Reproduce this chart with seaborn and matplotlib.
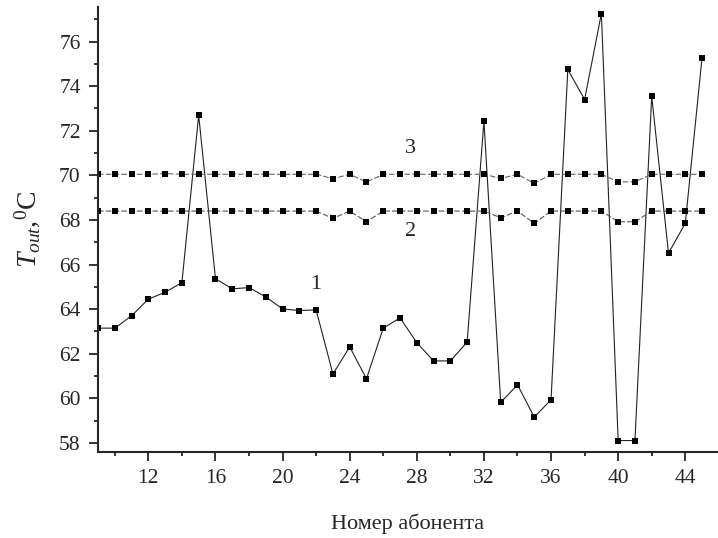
import matplotlib
matplotlib.use('Agg')
import matplotlib.pyplot as plt
from matplotlib.ticker import MultipleLocator
import seaborn as sns
import pandas as pd
import numpy as np

# subscriber numbers
subscribers = list(range(9, 46))

# curve 1: outlet temperature per subscriber
t_curve1 = [63.15, 63.15, 63.70, 64.45, 64.76, 65.19, 72.70, 65.37, 64.91, 64.97,
            64.55, 64.01, 63.94, 63.97, 61.09, 62.31, 60.88, 63.15, 63.61, 62.50,
            61.68, 61.68, 62.52, 72.43, 59.82, 60.61, 59.16, 59.94, 74.75, 73.40,
            77.25, 58.11, 58.11, 73.55, 66.51, 67.85, 75.28]

# curve 2
t_curve2 = [68.40, 68.40, 68.40, 68.40, 68.40, 68.40, 68.40, 68.40, 68.40, 68.40,
            68.40, 68.40, 68.40, 68.40, 68.07, 68.40, 67.92, 68.40, 68.40, 68.40,
            68.40, 68.40, 68.40, 68.40, 68.10, 68.40, 67.85, 68.40, 68.40, 68.40,
            68.40, 67.92, 67.92, 68.40, 68.40, 68.40, 68.40]

# curve 3
t_curve3 = [70.05, 70.05, 70.05, 70.05, 70.08, 70.05, 70.05, 70.05, 70.05, 70.05,
            70.05, 70.05, 70.05, 70.05, 69.85, 70.05, 69.70, 70.05, 70.05, 70.05,
            70.05, 70.05, 70.05, 70.05, 69.86, 70.05, 69.64, 70.05, 70.05, 70.05,
            70.05, 69.71, 69.71, 70.05, 70.05, 70.05, 70.05]

curve_names = ['1', '2', '3']

df = pd.DataFrame({
    'subscriber': subscribers * 3,
    'temp': t_curve1 + t_curve2 + t_curve3,
    'curve': sum([[c] * len(subscribers) for c in curve_names], []),
})

sns.set_style('ticks')
plt.rcParams['font.family'] = ['Liberation Serif', 'DejaVu Serif']
plt.rcParams['mathtext.fontset'] = 'custom'
plt.rcParams['mathtext.rm'] = 'Liberation Serif'
plt.rcParams['mathtext.it'] = 'Liberation Serif:italic'

fig = plt.figure(figsize=(7.18, 5.38), dpi=100)
ax = fig.add_axes([0.1365, 0.160, 0.8635, 0.827])

sns.lineplot(data=df, x='subscriber', y='temp', hue='curve', style='curve',
             palette={'1': '#222222', '2': '#555555', '3': '#666666'},
             dashes={'1': '', '2': (5, 2), '3': (5, 2)},
             markers={'1': 's', '2': 's', '3': 's'},
             markersize=5, markeredgewidth=0, markerfacecolor='black',
             linewidth=0.8, legend=False, ax=ax)
for ln in ax.lines:
    ln.set_markerfacecolor('black')
    ln.set_markeredgecolor('black')

ax.set_xlim(9.0, 45.95)
ax.set_ylim(57.6, 77.55)
ax.xaxis.set_major_locator(MultipleLocator(4))
ax.xaxis.set_minor_locator(MultipleLocator(2))
ax.yaxis.set_major_locator(MultipleLocator(2))
ax.yaxis.set_minor_locator(MultipleLocator(1))
ax.set_xticks(np.arange(12, 45, 4))
ax.tick_params(which='major', direction='out', length=6.5, width=1.3, labelsize=15.5, pad=6)
ax.tick_params(which='minor', direction='out', length=3.2, width=1.3)

for side in ['top', 'right']:
    ax.spines[side].set_visible(False)
for side in ['left', 'bottom']:
    ax.spines[side].set_linewidth(1.5)

ax.text(22.0, 65.1, '1', fontsize=16, ha='center', va='center')
ax.text(27.6, 67.5, '2', fontsize=16, ha='center', va='center')
ax.text(27.6, 71.22, '3', fontsize=16, ha='center', va='center')

ax.set_xlabel('Номер абонента', fontsize=16, labelpad=18)
ax.set_ylabel(r'$T_{out}$,$^{0}$C', fontsize=20, labelpad=12)

plt.savefig('out.png', dpi=100)
plt.close()
